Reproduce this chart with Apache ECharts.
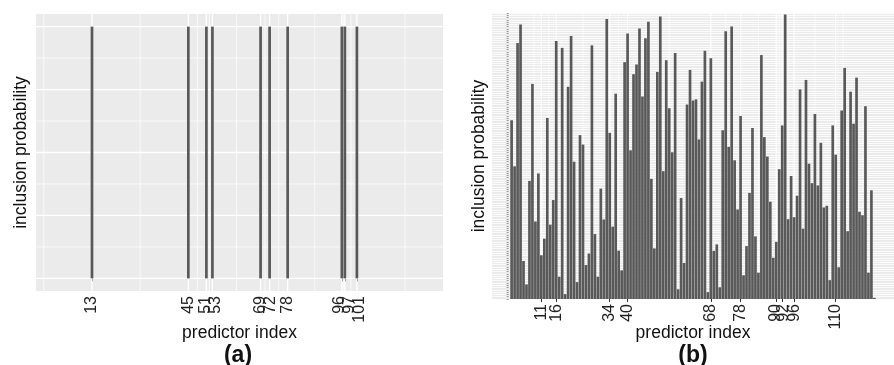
<!DOCTYPE html>
<html><head><meta charset="utf-8">
<script src="https://cdn.jsdelivr.net/npm/echarts@6/dist/echarts.min.js"></script>
<style>html,body{margin:0;padding:0;background:#fff}#c{width:894px;height:365px}</style>
</head><body><div id="c"></div>
<script>
// ---- data ----
const predictorsA = [13, 45, 51, 53, 69, 72, 78, 96, 97, 101];
const probsA = [1, 1, 1, 1, 1, 1, 1, 1, 1, 1];
const ticksA = [13, 45, 51, 53, 69, 72, 78, 96, 97, 101];
const yTicksA = [0, 0.25, 0.5, 0.75, 1];

const probsB = [
  0.625,0.464,0.895,0.960,0.133,0.051,0.413,0.752,0.271,0.439,
  0.153,0.211,0.633,0.260,0.346,0.902,0.078,0.878,0.017,0.742,
  0.920,0.480,0.059,0.573,0.540,0.119,0.159,0.887,0.227,0.078,
  0.386,0.278,0.979,0.581,0.253,0.718,0.169,0.100,0.828,0.928,
  0.520,0.786,0.820,0.946,0.708,0.912,0.969,0.420,0.177,0.794,
  0.988,0.447,0.835,0.667,0.513,0.860,0.034,0.353,0.126,0.680,
  0.801,0.694,0.698,0.558,0.760,0.868,0.024,0.842,0.168,0.191,
  0.041,0.590,0.936,0.532,0.953,0.485,0.313,0.640,0.083,0.185,
  0.371,0.598,0.219,0.092,0.853,0.566,0.498,0.340,0.144,0.200,
  0.454,0.607,0.995,0.279,0.430,0.286,0.361,0.733,0.246,0.766,
  0.473,0.405,0.647,0.397,0.546,0.320,0.326,0.066,0.607,0.505,
  0.111,0.659,0.808,0.237,0.725,0.613,0.774,0.305,0.293,0.674,
  0.092,0.380,0.004
];
const ticksB = [11, 16, 34, 40, 68, 78, 90, 92, 96, 110];

// ---- helpers ----
const X_LIM = [-5.6, 129.6];
const Y_LIM_A = [-0.05, 1.05];
const BAR = '#595959';
const FONT = '"Liberation Sans", Arial, Helvetica, sans-serif';
const GRID_A = { left: 36, top: 14, width: 407, height: 277 };
const GRID_B = { left: 492, top: 13, width: 406, height: 286 };

// ggplot-style minor breaks (midpoints, extended by one step at the ends)
function minorBreaks(b, lim) {
  const bd = b[1] - b[0];
  let e = b.slice();
  if (lim[0] < e[0]) e.unshift(e[0] - bd);
  if (lim[1] > e[e.length - 1]) e.push(e[e.length - 1] + bd);
  const out = [];
  for (let i = 0; i < e.length - 1; i++) out.push((e[i] + e[i + 1]) / 2);
  return out.filter(v => v > lim[0] && v < lim[1]);
}

// simple label repel: keep labels at least minSep apart, centre each cluster a little
function repel(ticks, minSep) {
  const pos = ticks.slice();
  for (let i = 1; i < pos.length; i++) if (pos[i] < pos[i - 1] + minSep) pos[i] = pos[i - 1] + minSep;
  let i = 0;
  while (i < pos.length) {
    let j = i;
    while (j + 1 < pos.length && pos[j + 1] - pos[j] <= minSep + 1e-9) j++;
    let d = 0;
    for (let k = i; k <= j; k++) d += pos[k] - ticks[k];
    d = d / (j - i + 1) / 2;
    for (let k = i; k <= j; k++) pos[k] -= d;
    i = j + 1;
  }
  return pos;
}
const unitsPerPx = (g) => (X_LIM[1] - X_LIM[0]) / g.width;
const labelPosA = repel(ticksA, 10 * unitsPerPx(GRID_A));
const labelPosB = repel(ticksB, 8.5 * unitsPerPx(GRID_B));
function labelFor(pos, ticks) {
  return (v) => {
    if (Math.abs(v - X_LIM[0]) < 1e-6 || Math.abs(v - X_LIM[1]) < 1e-6) return '';
    let best = 0, bd = Infinity;
    pos.forEach((p, i) => { const d = Math.abs(p - v); if (d < bd) { bd = d; best = i; } });
    return String(ticks[best]);
  };
}

function vGrid(idx, vals, w) {
  return {
    type: 'custom', xAxisIndex: idx, yAxisIndex: idx, z: 1, silent: true,
    data: vals.map(v => [v, 0]),
    renderItem: (params, api) => {
      const cs = params.coordSys;
      const x = api.coord([api.value(0), 0])[0];
      return { type: 'line', shape: { x1: x, y1: cs.y, x2: x, y2: cs.y + cs.height },
               style: { stroke: '#ffffff', lineWidth: w } };
    }
  };
}
function hGrid(idx, vals, w) {
  return {
    type: 'custom', xAxisIndex: idx, yAxisIndex: idx, z: 1, silent: true,
    data: vals.map(v => [X_LIM[0] + 1, v]),
    renderItem: (params, api) => {
      const cs = params.coordSys;
      const y = api.coord([api.value(0), api.value(1)])[1];
      return { type: 'line', shape: { x1: cs.x, y1: y, x2: cs.x + cs.width, y2: y },
               style: { stroke: '#ffffff', lineWidth: w } };
    }
  };
}
function bars(idx, xs, ys) {
  return {
    type: 'custom', xAxisIndex: idx, yAxisIndex: idx, z: 3,
    data: xs.map((x, i) => [x, ys[i]]),
    renderItem: (params, api) => {
      const x = api.value(0), y = api.value(1);
      const a = api.coord([x - 0.45, y]);
      const b = api.coord([x + 0.45, 0]);
      return { type: 'rect', shape: { x: a[0], y: a[1], width: b[0] - a[0], height: b[1] - a[1] },
               style: { fill: BAR } };
    }
  };
}

const indicesB = probsB.map((_, i) => i + 1);

const chart = echarts.init(document.getElementById('c'), null, { renderer: 'canvas' });
const tickAxis = (gi, ticks, gap) => ({
  gridIndex: gi, type: 'value', min: X_LIM[0], max: X_LIM[1],
  axisLine: { show: false },
  splitLine: { show: false },
  axisTick: { show: true, customValues: ticks, length: 3, lineStyle: { color: '#333', width: 1 } },
  axisLabel: { show: false },
  name: 'predictor index', nameLocation: 'middle', nameGap: gap, nameMoveOverlap: false,
  nameTextStyle: { fontSize: 17.5, color: '#111', fontFamily: FONT }
});
const labelAxis = (gi, pos, ticks) => ({
  gridIndex: gi, type: 'value', min: X_LIM[0], max: X_LIM[1], position: 'bottom',
  axisLine: { show: false }, splitLine: { show: false }, axisTick: { show: false },
  axisLabel: { show: true, customValues: [X_LIM[0]].concat(pos, [X_LIM[1]]), rotate: 90, margin: 5,
               fontSize: 16, color: '#222', fontFamily: FONT, hideOverlap: false,
               showMinLabel: true, showMaxLabel: true, formatter: labelFor(pos, ticks) }
});

chart.setOption({
  animation: false,
  backgroundColor: '#ffffff',
  grid: [
    Object.assign({ show: true, backgroundColor: '#EBEBEB', borderWidth: 0 }, GRID_A),
    Object.assign({ show: true, backgroundColor: '#EBEBEB', borderWidth: 0 }, GRID_B)
  ],
  xAxis: [
    tickAxis(0, ticksA, 33),
    tickAxis(1, ticksB, 25),
    labelAxis(0, labelPosA, ticksA),
    labelAxis(1, labelPosB, ticksB)
  ],
  yAxis: [
    {
      gridIndex: 0, type: 'value', min: Y_LIM_A[0], max: Y_LIM_A[1],
      axisLine: { show: false }, splitLine: { show: false },
      axisLabel: { show: false },
      axisTick: { show: true, customValues: yTicksA, length: 3, lineStyle: { color: '#333' } },
      name: 'inclusion probability', nameLocation: 'middle', nameGap: 6, nameMoveOverlap: false,
      nameTextStyle: { fontSize: 17.5, color: '#111', fontFamily: FONT }
    },
    {
      gridIndex: 1, type: 'value', min: 0, max: 1, interval: 0.008,
      axisLine: { show: false },
      splitLine: { show: true, lineStyle: { color: '#ffffff', width: 0.8 } },
      axisLabel: { show: false },
      axisTick: { show: true, length: 2, lineStyle: { color: '#555', width: 0.6 } },
      name: 'inclusion probability', nameLocation: 'middle', nameGap: 4, nameMoveOverlap: false,
      nameTextStyle: { fontSize: 17.5, color: '#111', fontFamily: FONT }
    }
  ],
  series: [
    vGrid(0, minorBreaks(ticksA, X_LIM), 0.7),
    hGrid(0, minorBreaks(yTicksA, Y_LIM_A), 0.7),
    vGrid(0, ticksA, 1.3),
    hGrid(0, yTicksA, 1.3),
    bars(0, predictorsA, probsA),
    vGrid(1, minorBreaks(ticksB, X_LIM), 0.7),
    vGrid(1, ticksB, 1.3),
    bars(1, indicesB, probsB)
  ],
  graphic: [
    { type: 'text', x: 238, y: 356, style: { text: '(a)', font: 'bold 23px ' + FONT, fill: '#111',
      textAlign: 'center', textVerticalAlign: 'middle' } },
    { type: 'text', x: 693, y: 356, style: { text: '(b)', font: 'bold 23px ' + FONT, fill: '#111',
      textAlign: 'center', textVerticalAlign: 'middle' } }
  ]
});
</script>
</body></html>
